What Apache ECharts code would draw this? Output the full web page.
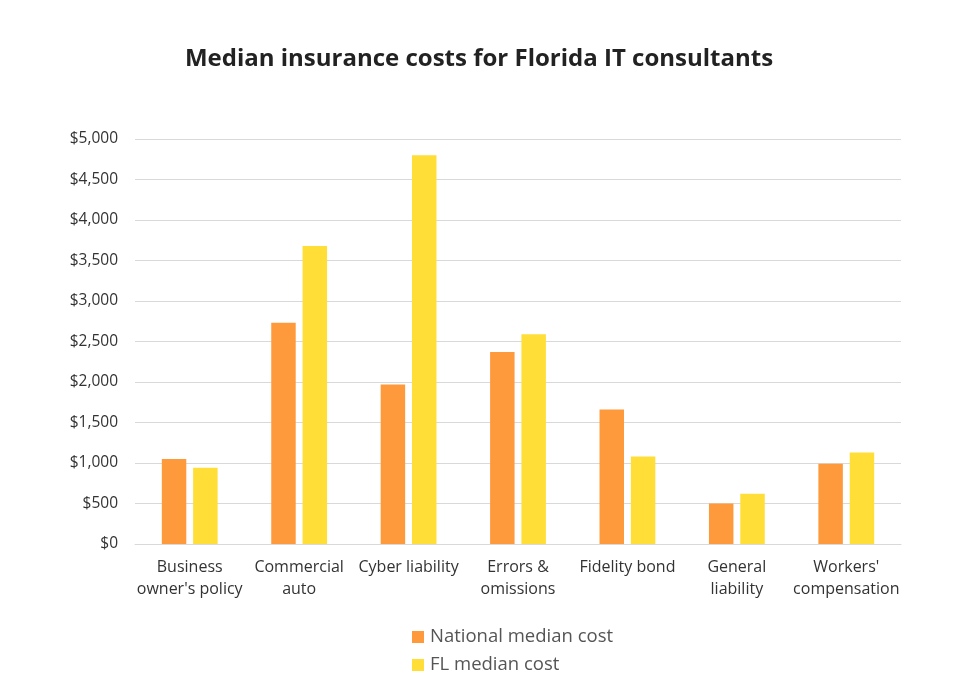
<!DOCTYPE html>
<html>
<head>
<meta charset="utf-8">
<script src="https://cdn.jsdelivr.net/npm/echarts@6/dist/echarts.min.js"></script>
<style>
  html, body { margin: 0; padding: 0; background: #fff; }
  #chart { width: 958px; height: 678px; }
</style>
</head>
<body>
<div id="chart"></div>
<script>
// categories along the x axis
const categories = [
    "Business\nowner's policy",
    "Commercial\nauto",
    "Cyber liability",
    "Errors &\nomissions",
    "Fidelity bond",
    "General\nliability",
    "Workers'\ncompensation"
];
const seriesNames = ['National median cost', 'FL median cost'];
// values, in dollars
const nationalCost = [1050, 2730, 1970, 2370, 1660, 500, 990];
const floridaCost = [940, 3680, 4800, 2590, 1080, 620, 1130];

const fontName = '"Open Sans", "DejaVu Sans", sans-serif';

let myChart = echarts.init(document.getElementById('chart'));

myChart.setOption({
    animation: false,
    title: {
        text: 'Median insurance costs for Florida IT consultants',
        left: 'center',
        top: 42,
        textStyle: {
            fontFamily: fontName,
            fontSize: 24,
            fontWeight: 'bold',
            color: '#222'
        }
    },
    color: ['#FF9A3C', '#FFDE38'],
    legend: {
        orient: 'vertical',
        left: 412,
        top: 627,
        padding: 0,
        itemWidth: 12,
        itemHeight: 12,
        itemGap: 8,
        icon: 'rect',
        data: seriesNames,
        textStyle: {
            fontFamily: fontName,
            fontSize: 18.5,
            lineHeight: 20,
            color: '#555',
            padding: [0, 0, 0, 1]
        }
    },
    grid: {
        left: 135,
        right: 57,
        top: 139,
        bottom: 134
    },
    xAxis: {
        type: 'category',
        data: categories,
        axisLine: { lineStyle: { color: '#d9d9d9' } },
        axisTick: { show: false },
        axisLabel: {
            interval: 0,
            margin: 12,
            fontFamily: fontName,
            fontSize: 16,
            lineHeight: 22,
            color: '#333'
        }
    },
    yAxis: {
        type: 'value',
        min: 0,
        max: 5000,
        interval: 500,
        axisLine: { show: false },
        axisTick: { show: false },
        splitLine: { lineStyle: { color: '#d9d9d9' } },
        axisLabel: {
            margin: 17,
            fontFamily: fontName,
            fontSize: 15.5,
            color: '#333',
            formatter: function (v) {
                return '$' + v.toLocaleString('en-US');
            }
        }
    },
    series: [{
        name: seriesNames[0],
        type: 'bar',
        data: nationalCost,
        barGap: '28%',
        barCategoryGap: '49%'
    }, {
        name: seriesNames[1],
        type: 'bar',
        data: floridaCost,
        barGap: '28%',
        barCategoryGap: '49%'
    }]
});
</script>
</body>
</html>
